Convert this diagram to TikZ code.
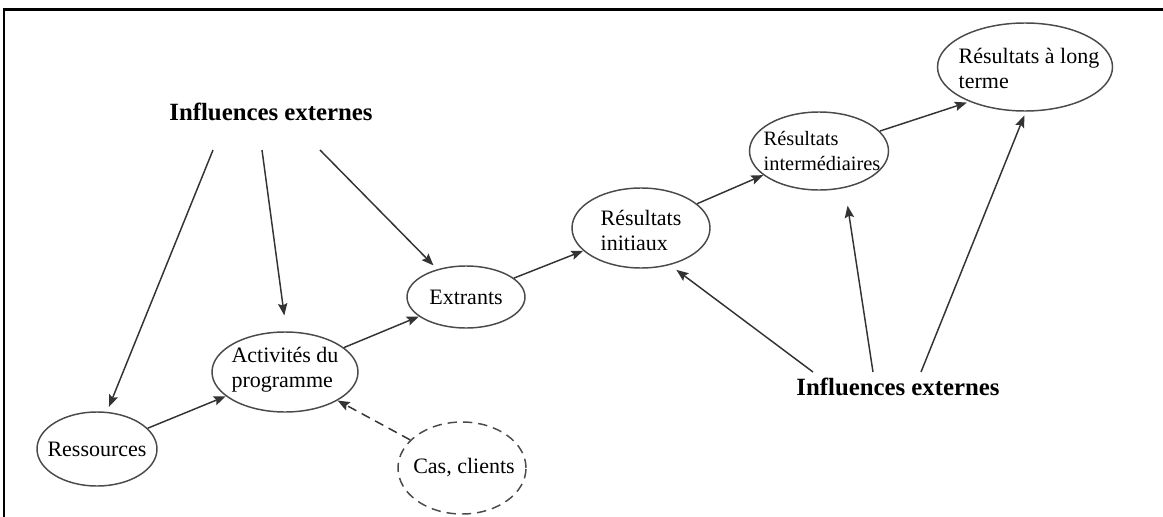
\documentclass[tikz,border=0pt]{standalone}
\usepackage{fontspec}
\setmainfont{Liberation Serif}
\usetikzlibrary{shapes.geometric,arrows.meta}
\definecolor{ln}{HTML}{333333}
\definecolor{el}{HTML}{4A4A4A}
\begin{document}
\begin{tikzpicture}[x=0.75pt,y=-0.75pt,
 oval/.style={draw=el,line width=1.1pt,ellipse,inner sep=0pt},
 dashedoval/.style={oval,dash pattern=on 7pt off 4.5pt},
 lbl/.style={inner sep=0pt,align=left,font=\fontsize{16.5}{18.75}\selectfont},
 infl/.style={inner sep=0pt,font=\bfseries\fontsize{18.6}{22}\selectfont},
 arr/.style={draw=ln,line width=1.1pt,-{Stealth[length=9pt,width=7pt,inset=1.5pt]}},
 darr/.style={arr,dash pattern=on 7pt off 4.5pt},
 frameline/.style={line width=1.6pt,black}]
\useasboundingbox (0,0) rectangle (1163,517);
\draw[frameline] (4,517) -- (4,9.5) -- (1163,9.5);

% ellipses
\node[oval,minimum width=90pt,minimum height=55.5pt] (res) at (97,449) {};
\node[lbl] (resT) at (res) {Ressources};
\node[oval,minimum width=109.5pt,minimum height=60pt] (act) at (285,372) {};
\node[lbl] (actT) at (285,370) {Activités du\\programme};
\node[oval,minimum width=88.5pt,minimum height=46.5pt] (ext) at (466,297) {};
\node[lbl] (extT) at (ext) {Extrants};
\node[oval,minimum width=103.5pt,minimum height=60pt] (init) at (641,228) {};
\node[lbl] (initT) at (641,230) {Résultats\\initiaux};
\node[oval,minimum width=104.25pt,minimum height=58.5pt] (inter) at (819,151) {};
\node[lbl,font=\fontsize{15.3}{18.75}\selectfont] (interT) at (822,151) {Résultats\\intermédiaires};
\node[oval,minimum width=131.25pt,minimum height=66pt] (long) at (1025,67) {};
\node[lbl] (longT) at (1029,68) {Résultats à long\\terme};
\node[dashedoval,minimum width=96pt,minimum height=69pt] (cas) at (462,468) {};
\node[lbl] (casT) at (464,468) {Cas, clients};

% external influences
\node[infl] (inflA) at (271,112) {Influences externes};
\node[infl] (inflB) at (898,387) {Influences externes};
\coordinate (a1) at (213,150);
\coordinate (a2) at (262,150);
\coordinate (a3) at (320,150);
\coordinate (b1) at (813,372);
\coordinate (b2) at (873,372);
\coordinate (b3) at (921,372);

% chain
\draw[arr] (res) -- (act);
\draw[arr] (act) -- (ext);
\draw[arr] (ext) -- (init);
\draw[arr] (init) -- (inter);
\draw[arr,shorten >=2pt] (inter) -- (long.212);
\draw[darr] (cas) -- (act);

% influence arrows
\draw[arr,shorten >=4pt] (a1) -- (res.75);
\draw[arr,shorten >=12pt] (a2) -- (act.88);
\draw[arr,shorten >=4pt] (a3) -- (ext.136);
\draw[arr,shorten >=6pt] (b1) -- (init.-52);
\draw[arr,shorten >=13.5pt] (b2) -- (inter.-55);
\draw[arr,shorten >=3pt] (b3) -- (long.-89);
\end{tikzpicture}
\end{document}
